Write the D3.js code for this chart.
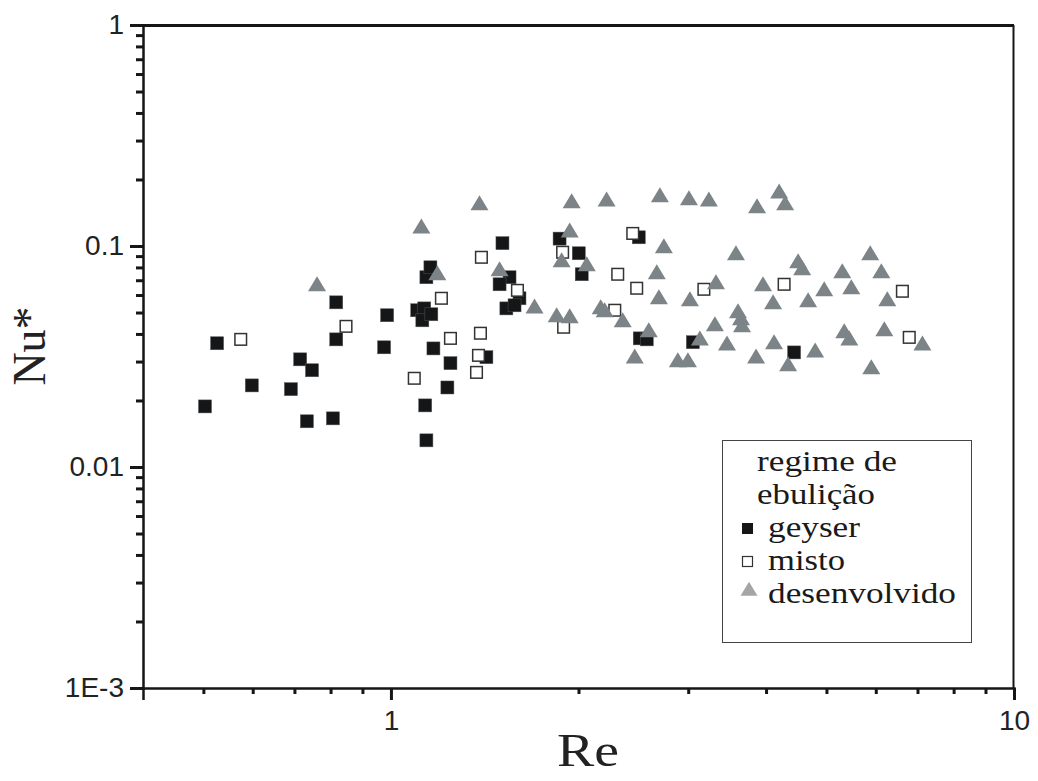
<!DOCTYPE html>
<html><head><meta charset="utf-8">
<script src="https://cdn.jsdelivr.net/npm/d3@7"></script>
<style>body{margin:0;background:#fff}</style>
</head><body>
<script>
// Data (Re, Nu*)
const geyserRe = [0.503,0.526,0.598,0.691,0.715,0.747,0.733,0.807,0.817,0.817,0.986,0.975,1.14,1.157,1.102,1.131,1.123,1.161,1.170,1.246,1.232,1.135,1.14,1.510,1.550,1.494,1.608,1.532,1.579,1.423,1.865,2.002,2.024,2.499,2.508,2.574,3.052,4.437];
const geyserNu = [0.0188,0.0363,0.0234,0.0225,0.0307,0.0274,0.0161,0.0166,0.0378,0.0556,0.0486,0.0348,0.0722,0.0801,0.0512,0.0522,0.0461,0.0491,0.0344,0.0295,0.0229,0.0190,0.0132,0.103,0.0722,0.0671,0.058,0.0522,0.0539,0.0314,0.108,0.0927,0.0745,0.1095,0.0382,0.0378,0.0367,0.033];
const mistoRe = [0.574,0.847,1.090,1.205,1.246,1.397,1.392,1.382,1.372,1.596,1.886,1.893,2.312,2.287,2.444,2.480,3.179,4.276,6.62,6.79];
const mistoNu = [0.0378,0.0433,0.0252,0.058,0.0382,0.0889,0.0403,0.032,0.0268,0.063,0.0937,0.0429,0.0745,0.0512,0.114,0.0644,0.0637,0.0671,0.0624,0.0386];
const desRe = [0.761,1.119,1.187,1.387,1.494,1.700,1.845,1.936,1.936,1.950,1.879,2.062,2.171,2.203,2.219,2.355,2.462,2.593,2.671,2.692,2.702,2.742,2.887,2.997,3.008,3.019,3.132,3.238,3.311,3.324,3.462,3.579,3.606,3.646,3.660,3.855,3.869,3.955,4.105,4.120,4.198,4.292,4.340,4.503,4.571,4.673,4.796,4.959,5.301,5.340,5.441,5.481,5.878,5.902,6.124,6.193,6.261,7.129];
const desNu = [0.0657,0.120,0.0737,0.153,0.0768,0.0522,0.0476,0.0471,0.115,0.156,0.0844,0.0809,0.0517,0.0501,0.159,0.0452,0.031,0.0407,0.0745,0.0574,0.166,0.0976,0.0298,0.0298,0.161,0.0562,0.0374,0.159,0.0433,0.0671,0.0355,0.0908,0.0496,0.0461,0.0429,0.031,0.148,0.0657,0.0545,0.0359,0.173,0.153,0.0286,0.0835,0.0776,0.0556,0.033,0.0624,0.0752,0.0403,0.0374,0.0637,0.0908,0.0277,0.0752,0.0411,0.0562,0.0355];

const yMajor = [1, 0.1, 0.01, 0.001];
const yMajorLabels = ["1", "0.1", "0.01", "1E-3"];
const xMajor = [1, 10];
const xMajorLabels = ["1", "10"];
const legendTitle = ["regime de", "ebulição"];
const seriesNames = ["geyser", "misto", "desenvolvido"];
const xTitle = "Re", yTitle = "Nu*";

const W = 1038, H = 781;
const svg = d3.select("body").append("svg").attr("width", W).attr("height", H);
const x = d3.scaleLog().domain([0.4, 10]).range([143, 1014]);
const y = d3.scaleLog().domain([0.001, 1]).range([688, 25]);

// minor ticks
const xMinor = [];
[0.1, 1].forEach(d => { for (let k = 2; k <= 9; k++) { const v = d * k; if (v > 0.4 && v < 10) xMinor.push(v); } });
const yMinor = [];
[0.001, 0.01, 0.1].forEach(d => { for (let k = 2; k <= 9; k++) yMinor.push(d * k); });

const g = svg.append("g");
// frame
g.append("line").attr("x1", 143).attr("x2", 1014).attr("y1", 25.5).attr("y2", 25.5).attr("stroke", "#161616").attr("stroke-width", 3);
g.append("line").attr("x1", 1013.5).attr("x2", 1013.5).attr("y1", 25).attr("y2", 688).attr("stroke", "#161616").attr("stroke-width", 2);

// Y axis
const yAxis = d3.axisLeft(y).tickValues(yMajor).tickSize(13).tickPadding(6)
  .tickFormat((d, i) => yMajorLabels[i]);
svg.append("g").attr("transform", "translate(143,0)").call(yAxis);
const yAxisMinor = d3.axisLeft(y).tickValues(yMinor).tickSize(7).tickFormat("");
svg.append("g").attr("transform", "translate(143,0)").call(yAxisMinor).select(".domain").remove();

// X axis
const xAxis = d3.axisBottom(x).tickValues(xMajor).tickSize(12).tickPadding(10)
  .tickFormat((d, i) => xMajorLabels[i]);
svg.append("g").attr("transform", "translate(0,688)").call(xAxis);
const xAxisMinor = d3.axisBottom(x).tickValues(xMinor).tickSize(6).tickFormat("");
svg.append("g").attr("transform", "translate(0,688)").call(xAxisMinor).select(".domain").remove();

svg.selectAll(".domain").attr("stroke", "#161616").attr("stroke-width", 2.5);
svg.selectAll(".tick line").attr("stroke", "#161616").attr("stroke-width", 3);
svg.selectAll(".tick text").attr("font-family", "Liberation Sans, Arial, sans-serif").attr("font-size", 28).attr("fill", "#222");

// axis titles
const serif = "Liberation Serif, Times New Roman, serif";
svg.append("text").attr("x", 588).attr("y", 766).attr("text-anchor", "middle")
  .attr("font-family", serif).attr("font-size", 46).attr("fill", "#222")
  .attr("textLength", 62).attr("lengthAdjust", "spacingAndGlyphs").text(xTitle);
svg.append("text").attr("transform", "translate(45,346) rotate(-90)").attr("text-anchor", "middle")
  .attr("font-family", serif).attr("font-size", 46).attr("fill", "#222").text(yTitle);

// markers
const tri = (w, h) => `M0,${-2*h/3}L${w/2},${h/3}L${-w/2},${h/3}Z`;
const plot = svg.append("g");
plot.selectAll(".geyser").data(d3.range(geyserRe.length)).join("rect")
  .attr("x", i => x(geyserRe[i]) - 6.5).attr("y", i => y(geyserNu[i]) - 6.5)
  .attr("width", 13).attr("height", 13).attr("fill", "#141618").attr("stroke", "#555").attr("stroke-width", 0.5);
plot.selectAll(".misto").data(d3.range(mistoRe.length)).join("rect")
  .attr("x", i => x(mistoRe[i]) - 5.8).attr("y", i => y(mistoNu[i]) - 5.8)
  .attr("width", 11.6).attr("height", 11.6).attr("fill", "#fff").attr("stroke", "#333").attr("stroke-width", 1.5);
plot.selectAll(".des").data(d3.range(desRe.length)).join("path")
  .attr("transform", i => `translate(${x(desRe[i])},${y(desNu[i])})`)
  .attr("d", tri(18, 15)).attr("fill", "#7c8488");

// legend
const lg = svg.append("g");
lg.append("rect").attr("x", 722.5).attr("y", 440.5).attr("width", 249).attr("height", 202)
  .attr("fill", "#fff").attr("stroke", "#444").attr("stroke-width", 1);
const titleLens = [140, 118];
const nameLens = [92, 77, 188];
legendTitle.forEach((t, i) => lg.append("text").attr("x", 757).attr("y", 471 + i * 33)
  .attr("font-family", serif).attr("font-size", 29).attr("fill", "#1a1a1a")
  .attr("textLength", titleLens[i]).attr("lengthAdjust", "spacingAndGlyphs").text(t));
seriesNames.forEach((t, i) => lg.append("text").attr("x", 768).attr("y", 537 + i * 33)
  .attr("font-family", serif).attr("font-size", 29).attr("fill", "#1a1a1a")
  .attr("textLength", nameLens[i]).attr("lengthAdjust", "spacingAndGlyphs").text(t));
lg.append("rect").attr("x", 742).attr("y", 523).attr("width", 11).attr("height", 11).attr("fill", "#141618");
lg.append("rect").attr("x", 742.5).attr("y", 556.5).attr("width", 10).attr("height", 10).attr("fill", "#fff").attr("stroke", "#333").attr("stroke-width", 1.2);
lg.append("path").attr("transform", "translate(749,591)").attr("d", tri(17, 14)).attr("fill", "#a3a6a8");
</script>
</body></html>
